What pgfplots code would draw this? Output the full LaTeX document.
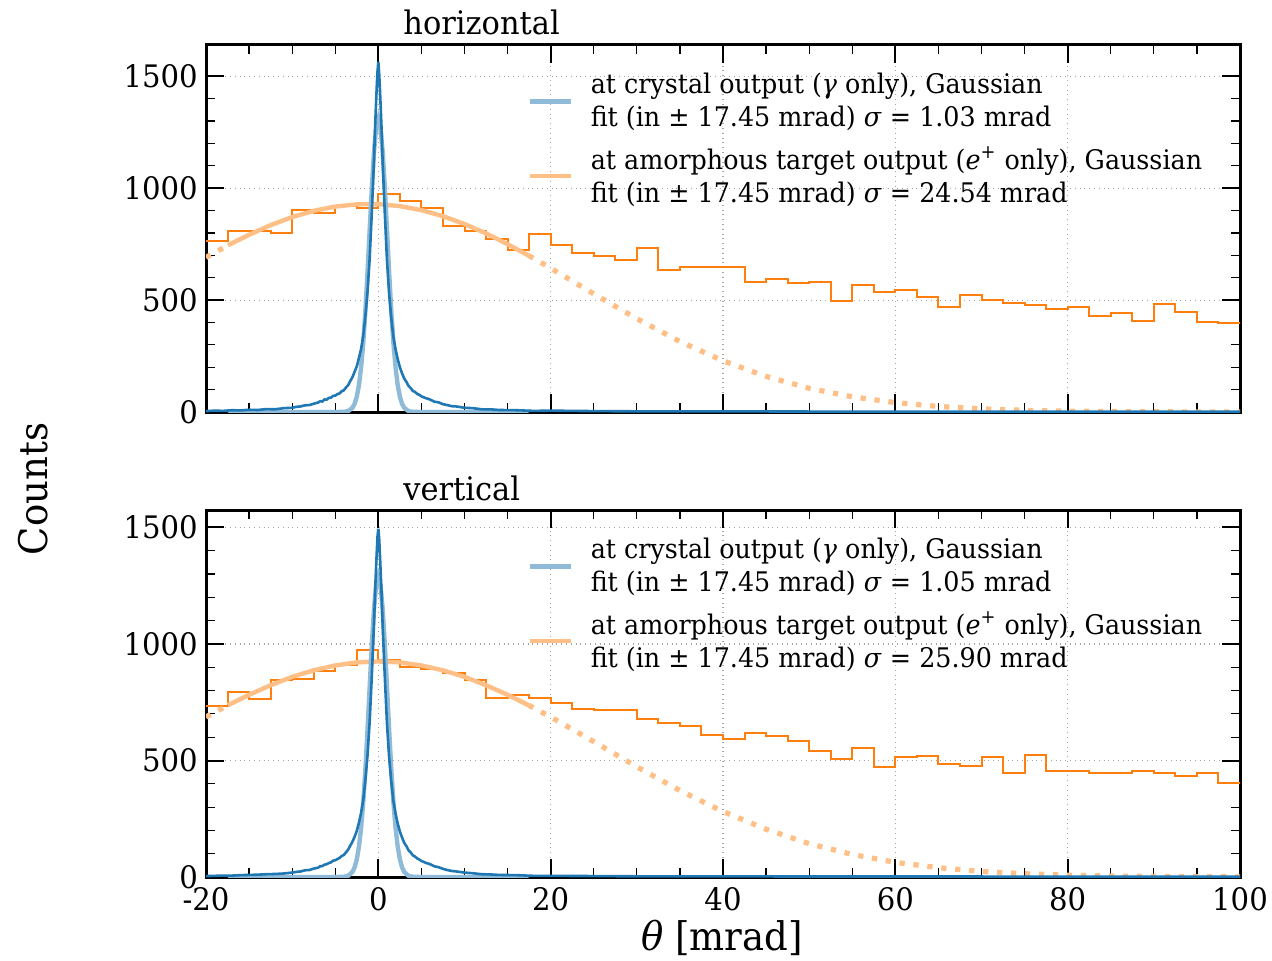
\documentclass[border=0pt]{standalone}
\usepackage{fontspec}
\setmainfont{DejaVu Serif}[FakeStretch=0.94]
\usepackage{pgfplots}
\pgfplotsset{compat=1.18}
\definecolor{tabblue}{HTML}{1F77B4}
\definecolor{taborange}{HTML}{FF7F0E}
\definecolor{fitblue}{HTML}{8FBBD9}
\definecolor{fitorange}{HTML}{FFBF86}
\pgfplotsset{legend image code/.code={\draw[#1] (0pt,0pt) -- (20.5pt,0pt);}}
\pgfplotsset{
  panel/.style={
    scale only axis, width=517pt, height=183.5pt,
    xmin=-20, xmax=100, ymin=0,
    xtick={-20,0,...,100}, minor x tick num=3,
    ytick={0,500,1000,1500}, minor y tick num=4,
    tick align=inside,
    major tick length=9pt, minor tick length=4.5pt,
    major tick style={line width=1pt, black},
    minor tick style={line width=0.6pt, black},
    axis line style={line width=1.5pt},
    grid=major, major grid style={dotted, black!35, line width=0.6pt},
    tick label style={font=\fontsize{15.5}{18}\selectfont, inner sep=0.5pt},
    xticklabel style={yshift=-4.6pt},
    yticklabel style={xshift=-3.4pt},
    /pgf/number format/assume math mode=true,
    /pgf/number format/1000 sep={},
    legend cell align=left,
    legend style={draw=none, fill=none, at={(0.3104,0.924)}, anchor=north west,
      font=\fontsize{13.5}{16.5}\selectfont, row sep=8.5pt, column sep=9pt,
      inner sep=0pt, cells={align=left, anchor=west}, nodes={inner sep=0pt}},
  },
  fitb/.style={fitblue, line width=2.2pt},
  fito/.style={fitorange, line width=2.2pt},
  fitod/.style={fitorange, line width=2.6pt, dash pattern=on 2.6pt off 4.4pt},
}
\begin{document}
\begin{tikzpicture}
\path[use as bounding box] (0,0) rectangle (636pt,480pt);
% ---------------- top panel ----------------
\begin{axis}[panel, at={(103pt,274pt)}, anchor=south west, ymax=1640, xticklabels={}]
\addlegendimage{fitb}
\addlegendentry{at crystal output (\textit{γ} only), Gaussian\\fit (in ± 17.45 mrad) \textit{σ} = 1.03 mrad}
\addlegendimage{fito}
\addlegendentry{at amorphous target output (\textit{e}\textsuperscript{+} only), Gaussian\\fit (in ± 17.45 mrad) \textit{σ} = 24.54 mrad}
\addplot[taborange, line width=1pt, const plot, forget plot] coordinates {
(-20,762) (-17.5,811) (-15,811) (-12.5,799) (-10,901) (-7.5,889) (-5,919) (-2.5,911)
(0,975) (2.5,941) (5,911) (7.5,832) (10,811) (12.5,774) (15,722) (17.5,795) (20,747)
(22.5,710) (25,698) (27.5,680) (30,732) (32.5,635) (35,646) (37.5,650) (40,647)
(42.5,579) (45,594) (47.5,576) (50,583) (52.5,498) (55,568) (57.5,535) (60,546)
(62.5,516) (65,471) (67.5,521) (70,501) (72.5,489) (75,477) (77.5,459) (80,467)
(82.5,427) (85,444) (87.5,405) (90,482) (92.5,449) (95,403) (97.5,397) (100,397)};
\addplot[fitod, forget plot] coordinates {(-20,691) (-17.45,745)};
\addplot[fito, forget plot] coordinates {
(-17.45,745) (-15,792) (-12.5,835) (-10,871) (-7.5,899) (-5,918) (-2.5,928) (0,929)
(2.5,920) (5,902) (7.5,875) (10,840) (12.5,798) (15,750) (17.45,699)};
\addplot[fitod, forget plot] coordinates {
(17.45,699) (20,643) (25,528) (30,417) (35,315) (40,229) (45,159) (50,106) (55,68)
(60,42) (65,24.7) (70,14) (75,7.6) (80,4) (85,2) (90,0.95) (95,0.4) (100,0.2)};
\addplot[fitb, forget plot] coordinates {
(-17.45,0) (-5,0) (-4,0.7) (-3.5,4) (-3,19) (-2.75,37) (-2.5,69) (-2.25,120) (-2,199)
(-1.75,309) (-1.5,454) (-1.25,627) (-1,818) (-0.75,1005) (-0.5,1164) (-0.25,1272) (0,1310)
(0.25,1272) (0.5,1164) (0.75,1005) (1,818) (1.25,627) (1.5,454) (1.75,309) (2,199)
(2.25,120) (2.5,69) (2.75,37) (3,19) (3.5,4) (4,0.7) (5,0) (17.45,0)};
\addplot[tabblue, line width=1.3pt, forget plot] coordinates {
(-20,4) (-19,6) (-18,5) (-17,8) (-16,7) (-15,10) (-14,9) (-13,13) (-12,12) (-11,17)
(-10,19) (-9.5,23) (-9,25) (-8.5,30) (-8,31) (-7.5,37) (-7,42) (-6.75,48) (-6.5,47)
(-6.25,56) (-6,55) (-5.75,63) (-5.5,64) (-5.25,72) (-5,73) (-4.75,80) (-4.5,83) (-4.25,93)
(-4,97) (-3.75,110) (-3.5,120) (-3.25,139) (-3,156) (-2.75,180) (-2.5,204) (-2.25,241)
(-2,282) (-1.75,340) (-1.5,430) (-1.25,540) (-1,690) (-0.75,900) (-0.5,1130) (-0.35,1300)
(-0.2,1440) (-0.1,1520) (0,1565) (0.1,1510) (0.2,1430) (0.35,1290) (0.5,1120) (0.75,890)
(1,680) (1.25,530) (1.5,420) (1.75,335) (2,280) (2.25,236) (2.5,200) (2.75,173) (3,150)
(3.25,135) (3.5,117) (3.75,107) (4,94) (4.25,90) (4.5,81) (4.75,77) (5,70) (5.5,62)
(6,56) (6.5,46) (7,43) (7.5,35) (8,31) (8.5,26) (9,25) (10,19) (11,17) (12,12) (13,12)
(14,9) (16,8) (18,5) (20,6) (25,4) (30,3) (40,3) (50,2) (60,2) (70,2) (80,1) (90,1) (100,1)};
\end{axis}
% ---------------- bottom panel ----------------
\begin{axis}[panel, at={(103pt,41.5pt)}, anchor=south west, ymax=1575]
\addlegendimage{fitb}
\addlegendentry{at crystal output (\textit{γ} only), Gaussian\\fit (in ± 17.45 mrad) \textit{σ} = 1.05 mrad}
\addlegendimage{fito}
\addlegendentry{at amorphous target output (\textit{e}\textsuperscript{+} only), Gaussian\\fit (in ± 17.45 mrad) \textit{σ} = 25.90 mrad}
\addplot[taborange, line width=1pt, const plot, forget plot] coordinates {
(-20,732) (-17.5,794) (-15,763) (-12.5,844) (-10,851) (-7.5,882) (-5,911) (-2.5,973)
(0,930) (2.5,900) (5,894) (7.5,875) (10,847) (12.5,768) (15,782) (17.5,768) (20,746)
(22.5,721) (25,715) (27.5,715) (30,678) (32.5,663) (35,649) (37.5,610) (40,592)
(42.5,620) (45,606) (47.5,584) (50,541) (52.5,506) (55,553) (57.5,470) (60,517)
(62.5,520) (65,486) (67.5,478) (70,517) (72.5,445) (75,524) (77.5,453) (80,457)
(82.5,448) (85,448) (87.5,457) (90,448) (92.5,435) (95,445) (97.5,403) (100,403)};
\addplot[fitod, forget plot] coordinates {(-20,687) (-17.45,737)};
\addplot[fito, forget plot] coordinates {
(-17.45,737) (-15,782) (-12.5,823) (-10,859) (-7.5,887) (-5,908) (-2.5,921) (0,925)
(2.5,921) (5,908) (7.5,887) (10,859) (12.5,823) (15,782) (17.45,737)};
\addplot[fitod, forget plot] coordinates {
(17.45,737) (20,687) (25,581) (30,473) (35,371) (40,281) (45,205) (50,143) (55,97)
(60,63) (65,40) (70,24) (75,14) (80,7.8) (85,4.2) (90,2.2) (95,1.1) (100,0.5)};
\addplot[fitb, forget plot] coordinates {
(-17.45,0) (-5,0) (-4,0.9) (-3.5,5) (-3,22) (-2.75,42) (-2.5,76) (-2.25,130) (-2,210)
(-1.75,322) (-1.5,465) (-1.25,635) (-1,820) (-0.75,999) (-0.5,1152) (-0.25,1254) (0,1290)
(0.25,1254) (0.5,1152) (0.75,999) (1,820) (1.25,635) (1.5,465) (1.75,322) (2,210)
(2.25,130) (2.5,76) (2.75,42) (3,22) (3.5,5) (4,0.9) (5,0) (17.45,0)};
\addplot[tabblue, line width=1.3pt, forget plot] coordinates {
(-20,4) (-19,5) (-18,6) (-17,6) (-16,8) (-15,9) (-14,10) (-13,12) (-12,13) (-11,15)
(-10,19) (-9.5,22) (-9,24) (-8.5,29) (-8,30) (-7.5,36) (-7,40) (-6.75,46) (-6.5,47)
(-6.25,53) (-6,55) (-5.75,60) (-5.5,63) (-5.25,70) (-5,72) (-4.75,77) (-4.5,82) (-4.25,90)
(-4,95) (-3.75,106) (-3.5,118) (-3.25,135) (-3,152) (-2.75,173) (-2.5,198) (-2.25,233)
(-2,275) (-1.75,330) (-1.5,418) (-1.25,525) (-1,670) (-0.75,870) (-0.5,1090) (-0.35,1250)
(-0.2,1380) (-0.1,1460) (0,1495) (0.1,1450) (0.2,1370) (0.35,1240) (0.5,1080) (0.75,860)
(1,660) (1.25,515) (1.5,410) (1.75,325) (2,272) (2.25,229) (2.5,195) (2.75,170) (3,147)
(3.25,133) (3.5,115) (3.75,106) (4,93) (4.25,88) (4.5,80) (4.75,75) (5,69) (5.5,61)
(6,55) (6.5,46) (7,42) (7.5,35) (8,30) (8.5,26) (9,24) (10,19) (11,16) (12,12) (13,11)
(14,9) (16,8) (18,5) (20,5) (25,4) (30,3) (40,3) (50,2) (60,2) (70,2) (80,1) (90,1) (100,1)};
\end{axis}
% ---------------- titles and labels ----------------
\node[anchor=base west, font=\fontsize{16.2}{19}\selectfont, inner sep=0pt] at (201.5pt,462.5pt) {horizontal};
\node[anchor=base west, font=\fontsize{16.2}{19}\selectfont, inner sep=0pt] at (201.5pt,230pt) {vertical};
\node[rotate=90, font=\fontsize{19.7}{23}\selectfont, inner sep=0pt] at (16.5pt,235.5pt) {Counts};
\node[font=\fontsize{19.7}{23}\selectfont, inner sep=0pt] at (361pt,11pt) {\textit{θ} [mrad]};
\end{tikzpicture}
\end{document}
